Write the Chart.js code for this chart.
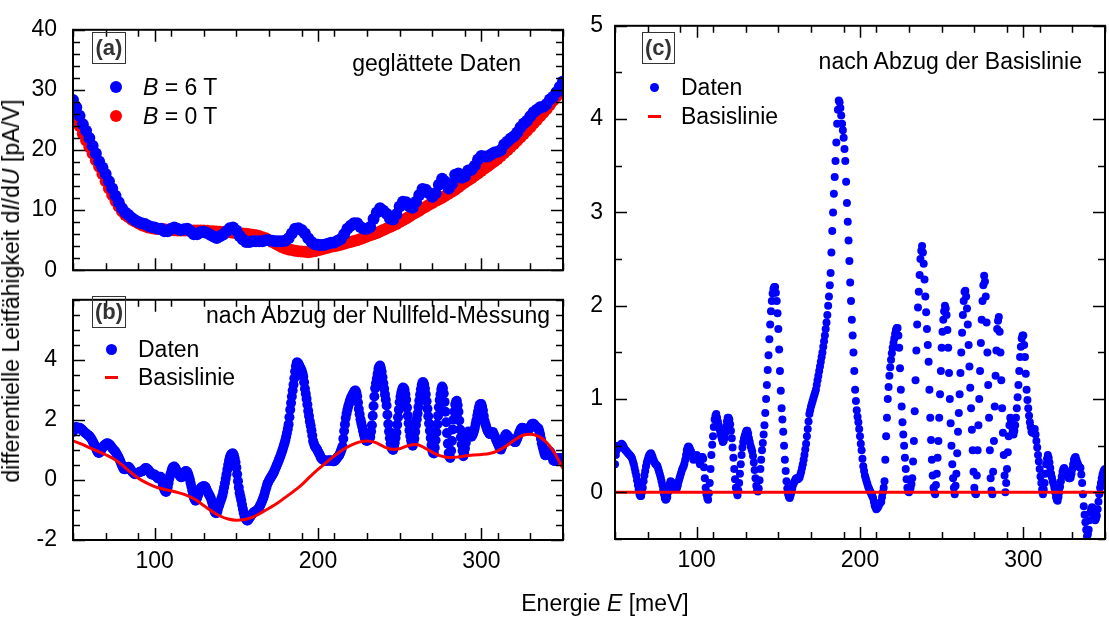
<!DOCTYPE html>
<html>
<head>
<meta charset="utf-8">
<script src="https://cdn.jsdelivr.net/npm/chart.js@4.4.0/dist/chart.umd.min.js"></script>
<style>
body { margin: 0; background: #fff; }
#fig { position: relative; width: 1109px; height: 619px; overflow: hidden;
       font-family: "Liberation Sans", Arial, sans-serif; color: #000; }
#fig canvas { position: absolute; }
.txt { position: absolute; font-size: 23px; line-height: 26px; white-space: nowrap; transform: translateY(-50%); }
.tag { position: absolute; box-sizing: border-box; border: 1.5px solid #333; color: #333;
       font-weight: bold; font-size: 22px; display: flex; align-items: center; justify-content: center; }
.dot { position: absolute; border-radius: 50%; }
.dash { position: absolute; height: 3px; }
</style>
</head>
<body>
<div id="fig">
  <canvas id="panelA" width="575" height="300" style="left:0;top:0"></canvas>
  <canvas id="panelB" width="575" height="340" style="left:0;top:270px"></canvas>
  <canvas id="panelC" width="534" height="610" style="left:575px;top:0"></canvas>

  <div class="txt" style="left:11px;top:291px;transform:translate(-50%,-50%) rotate(-90deg)">differentielle Leitfähigkeit d<i>I</i>/d<i>U</i> [pA/V]</div>
  <div class="txt" style="left:605px;top:603px;transform:translate(-50%,-50%)">Energie <i>E</i> [meV]</div>

  <!-- (a) -->
  <div class="tag" style="left:92px;top:32px;width:34px;height:32px">(a)</div>
  <div class="txt" style="right:588px;top:63px">geglättete Daten</div>
  <div class="dot" id="legA1" style="left:110px;top:81px;width:12px;height:12px"></div>
  <div class="txt" style="left:143px;top:87px"><i>B</i> = 6 T</div>
  <div class="dot" id="legA2" style="left:110px;top:110px;width:12px;height:12px"></div>
  <div class="txt" style="left:143px;top:116px"><i>B</i> = 0 T</div>

  <!-- (b) -->
  <div class="tag" style="left:92px;top:296px;width:34px;height:32px">(b)</div>
  <div class="txt" style="right:559px;top:315px">nach Abzug der Nullfeld-Messung</div>
  <div class="dot" id="legB1" style="left:106px;top:344px;width:11px;height:11px"></div>
  <div class="txt" style="left:138px;top:349px">Daten</div>
  <div class="dash" id="legB2" style="left:105px;top:376px;width:13px"></div>
  <div class="txt" style="left:138px;top:377px">Basislinie</div>

  <!-- (c) -->
  <div class="tag" style="left:642px;top:32px;width:33px;height:32px">(c)</div>
  <div class="txt" style="right:27px;top:61px">nach Abzug der Basislinie</div>
  <div class="dot" id="legC1" style="left:650px;top:83px;width:9px;height:9px"></div>
  <div class="txt" style="left:681px;top:87px">Daten</div>
  <div class="dash" id="legC2" style="left:648px;top:115px;width:13px"></div>
  <div class="txt" style="left:681px;top:116px">Basislinie</div>
</div>

<script>
const BLUE = "#0000ff";
const RED = "#ff0000";

// energy grids in meV
const energyHalf = Array.from({ length: 601 }, (_, i) => 50 + i / 2);
const energy2 = Array.from({ length: 151 }, (_, i) => 50 + 2 * i);
const energy5 = Array.from({ length: 61 }, (_, i) => 50 + 5 * i);

// (a) smoothed dI/dU in pA/V, every 2 meV
const dIdU6T = [
  28.3, 27.1, 25.7, 24.3, 23.2, 22.0, 20.7, 19.4, 18.1, 17.1,
  16.0, 14.8, 13.6, 12.4, 11.3, 10.3, 9.6, 9.2, 8.7, 8.3,
  8.0, 7.8, 7.7, 7.4, 7.2, 7.1, 6.9, 6.9, 6.5, 6.5,
  6.9, 7.1, 6.9, 6.7, 6.8, 6.9, 6.5, 6.0, 6.0, 6.3,
  6.4, 6.2, 5.9, 5.6, 5.35, 5.65, 5.95, 6.5, 7.0, 7.1,
  6.6, 5.7, 5.1, 4.7, 4.7, 4.8, 4.8, 4.8, 4.8, 5.0,
  5.0, 4.9, 4.8, 4.8, 4.8, 4.9, 5.3, 6.1, 6.9, 7.0,
  6.7, 6.1, 5.3, 4.7, 4.3, 4.25, 4.2, 4.25, 4.4, 4.55,
  4.6, 4.9, 5.2, 6.0, 6.9, 7.4, 7.8, 7.8, 7.2, 6.9,
  6.9, 7.2, 8.5, 9.6, 10.3, 9.9, 9.4, 8.6, 8.45, 9.3,
  10.6, 11.4, 11.3, 10.6, 10.4, 11.4, 12.5, 13.5, 13.4, 12.8,
  12.2, 12.8, 14.2, 15.2, 14.7, 13.6, 14.35, 15.9, 16.1, 15.4,
  15.65, 16.6, 16.7, 17.4, 18.4, 19.0, 18.9, 18.9, 19.25, 19.6,
  19.7, 20.0, 20.9, 21.4, 21.9, 22.3, 22.9, 23.8, 24.4, 24.85,
  25.6, 26.3, 26.7, 27.1, 27.2, 27.65, 28.4, 28.85, 29.6, 30.5,
  31.4
];
const dIdU0T = [
  26.7, 25.3, 24.0, 22.7, 21.6, 20.5, 19.4, 18.3, 17.2, 16.0,
  14.8, 13.6, 12.5, 11.5, 10.6, 9.8, 9.2, 8.8, 8.4, 8.1,
  7.8, 7.5, 7.3, 7.1, 7.0, 6.9, 6.85, 6.8, 6.8, 6.75,
  6.7, 6.65, 6.6, 6.6, 6.6, 6.6, 6.6, 6.6, 6.6, 6.6,
  6.6, 6.55, 6.5, 6.5, 6.45, 6.4, 6.35, 6.3, 6.3, 6.25,
  6.2, 6.15, 6.1, 6.05, 6.0, 5.9, 5.8, 5.7, 5.5, 5.3,
  5.0, 4.7, 4.4, 4.1, 3.8, 3.6, 3.45, 3.35, 3.25, 3.15,
  3.1, 3.05, 3.0, 3.05, 3.15, 3.3, 3.45, 3.6, 3.75, 3.9,
  4.0, 4.1, 4.25, 4.4, 4.55, 4.7, 4.85, 5.0, 5.2, 5.4,
  5.6, 5.8, 6.0, 6.2, 6.45, 6.7, 6.95, 7.2, 7.45, 7.7,
  8.0, 8.3, 8.6, 8.95, 9.3, 9.6, 9.9, 10.25, 10.55, 10.9,
  11.2, 11.5, 11.75, 12.05, 12.4, 12.7, 13.05, 13.4, 13.8, 14.2,
  14.6, 14.95, 15.3, 15.7, 16.1, 16.5, 16.9, 17.3, 17.7, 18.1,
  18.5, 19.0, 19.5, 19.95, 20.5, 21.0, 21.55, 22.1, 22.65, 23.2,
  23.8, 24.4, 25.0, 25.6, 26.2, 26.8, 27.5, 28.2, 28.9, 29.8,
  30.8
];

// (b) 6 T minus 0 T, every 0.5 meV
const diffData = [
  1.60, 1.69, 1.73, 1.75, 1.76, 1.74, 1.72, 1.73, 1.74, 1.72,
  1.70, 1.67, 1.64, 1.62, 1.59, 1.57, 1.55, 1.53, 1.50, 1.48,
  1.46, 1.43, 1.39, 1.35, 1.29, 1.24, 1.19, 1.13, 1.06, 1.00,
  0.94, 0.91, 0.90, 0.93, 0.96, 1.02, 1.07, 1.11, 1.14, 1.17,
  1.19, 1.21, 1.21, 1.21, 1.20, 1.17, 1.14, 1.10, 1.06, 1.03,
  1.00, 0.97, 0.94, 0.89, 0.84, 0.79, 0.74, 0.68, 0.62, 0.55,
  0.48, 0.42, 0.37, 0.36, 0.36, 0.39, 0.41, 0.43, 0.44, 0.41,
  0.37, 0.33, 0.29, 0.26, 0.23, 0.21, 0.19, 0.20, 0.22, 0.23,
  0.24, 0.26, 0.27, 0.28, 0.28, 0.29, 0.31, 0.35, 0.38, 0.40,
  0.39, 0.37, 0.34, 0.31, 0.27, 0.22, 0.18, 0.18, 0.18, 0.18,
  0.18, 0.15, 0.12, 0.09, 0.05, 0.08, 0.11, 0.11, 0.08, -0.02,
  -0.15, -0.26, -0.33, -0.38, -0.40, -0.34, -0.24, -0.10, 0.05, 0.16,
  0.24, 0.34, 0.41, 0.44, 0.45, 0.41, 0.36, 0.31, 0.26, 0.22,
  0.17, 0.13, 0.09, 0.09, 0.11, 0.17, 0.22, 0.27, 0.30, 0.29,
  0.26, 0.20, 0.11, 0.02, -0.10, -0.22, -0.35, -0.48, -0.58, -0.65,
  -0.69, -0.66, -0.60, -0.52, -0.44, -0.36, -0.29, -0.25, -0.23, -0.22,
  -0.21, -0.21, -0.23, -0.28, -0.35, -0.41, -0.46, -0.51, -0.56, -0.63,
  -0.72, -0.82, -0.92, -1.02, -1.08, -1.11, -1.10, -1.03, -0.92, -0.84,
  -0.75, -0.68, -0.60, -0.51, -0.39, -0.25, -0.11, 0.04, 0.19, 0.35,
  0.50, 0.64, 0.74, 0.82, 0.86, 0.88, 0.88, 0.82, 0.72, 0.59,
  0.41, 0.19, -0.04, -0.25, -0.43, -0.55, -0.68, -0.83, -0.97, -1.09,
  -1.20, -1.27, -1.32, -1.35, -1.35, -1.31, -1.27, -1.23, -1.18, -1.15,
  -1.12, -1.09, -1.06, -1.05, -1.04, -1.02, -1.00, -0.96, -0.91, -0.86,
  -0.80, -0.74, -0.67, -0.60, -0.52, -0.42, -0.32, -0.23, -0.13, -0.08,
  -0.02, 0.03, 0.07, 0.12, 0.16, 0.21, 0.26, 0.33, 0.39, 0.46,
  0.52, 0.59, 0.66, 0.73, 0.80, 0.88, 0.96, 1.04, 1.13, 1.22,
  1.32, 1.44, 1.56, 1.70, 1.85, 2.09, 2.34, 2.56, 2.78, 2.98,
  3.17, 3.39, 3.61, 3.79, 3.91, 3.91, 3.87, 3.82, 3.75, 3.70,
  3.64, 3.55, 3.44, 3.25, 3.04, 2.87, 2.70, 2.51, 2.30, 2.13,
  1.95, 1.81, 1.65, 1.48, 1.30, 1.21, 1.13, 1.09, 1.05, 1.01,
  0.95, 0.90, 0.85, 0.78, 0.72, 0.70, 0.67, 0.66, 0.65, 0.65,
  0.64, 0.64, 0.64, 0.65, 0.65, 0.65, 0.65, 0.64, 0.62, 0.62,
  0.62, 0.65, 0.68, 0.72, 0.76, 0.79, 0.82, 0.89, 0.96, 1.03,
  1.12, 1.37, 1.63, 1.85, 2.06, 2.21, 2.34, 2.45, 2.54, 2.63,
  2.70, 2.76, 2.82, 2.88, 2.93, 2.97, 2.98, 2.91, 2.79, 2.58,
  2.36, 2.19, 2.02, 1.90, 1.78, 1.65, 1.53, 1.43, 1.34, 1.31,
  1.30, 1.32, 1.34, 1.38, 1.43, 1.61, 1.82, 2.14, 2.46, 2.78,
  3.05, 3.22, 3.37, 3.54, 3.70, 3.78, 3.81, 3.73, 3.60, 3.42,
  3.22, 3.04, 2.85, 2.67, 2.48, 2.17, 1.86, 1.61, 1.39, 1.21,
  1.07, 1.02, 1.00, 1.11, 1.23, 1.40, 1.58, 1.84, 2.09, 2.34,
  2.59, 2.77, 2.91, 3.01, 3.08, 3.06, 3.00, 2.85, 2.67, 2.41,
  2.14, 1.89, 1.65, 1.46, 1.31, 1.21, 1.14, 1.24, 1.37, 1.60,
  1.83, 2.02, 2.21, 2.43, 2.64, 2.84, 3.02, 3.16, 3.25, 3.25,
  3.18, 3.04, 2.85, 2.62, 2.37, 2.12, 1.88, 1.64, 1.40, 1.16,
  0.97, 0.90, 0.88, 1.07, 1.32, 1.58, 1.85, 2.14, 2.42, 2.66,
  2.85, 3.02, 3.11, 3.05, 2.88, 2.60, 2.27, 1.92, 1.56, 1.21,
  0.90, 0.77, 0.73, 0.97, 1.30, 1.68, 2.01, 2.28, 2.51, 2.60,
  2.64, 2.49, 2.27, 1.98, 1.68, 1.42, 1.18, 0.97, 0.79, 0.90,
  1.05, 1.24, 1.41, 1.53, 1.61, 1.58, 1.52, 1.47, 1.44, 1.49,
  1.55, 1.63, 1.73, 1.86, 1.99, 2.14, 2.29, 2.41, 2.50, 2.53,
  2.53, 2.44, 2.31, 2.13, 1.96, 1.86, 1.77, 1.69, 1.62, 1.58,
  1.53, 1.53, 1.55, 1.58, 1.60, 1.55, 1.48, 1.42, 1.35, 1.29,
  1.22, 1.16, 1.10, 1.05, 1.01, 1.08, 1.16, 1.28, 1.39, 1.47,
  1.52, 1.51, 1.48, 1.44, 1.40, 1.38, 1.36, 1.35, 1.33, 1.30,
  1.27, 1.26, 1.26, 1.32, 1.38, 1.46, 1.54, 1.61, 1.67, 1.72,
  1.74, 1.73, 1.71, 1.70, 1.68, 1.66, 1.65, 1.66, 1.67, 1.72,
  1.77, 1.82, 1.86, 1.87, 1.87, 1.84, 1.80, 1.77, 1.74, 1.73,
  1.71, 1.62, 1.51, 1.37, 1.22, 1.11, 1.01, 0.91, 0.82, 0.82,
  0.85, 0.92, 0.96, 0.96, 0.94, 0.90, 0.83, 0.74, 0.65, 0.64,
  0.63, 0.65, 0.68, 0.71, 0.73, 0.73, 0.73, 0.72, 0.70, 0.67,
  0.63
];
// (b) baseline, every 5 meV
const diffBase = [
  1.30, 1.20, 1.08, 0.96, 0.84, 0.70, 0.50, 0.27, 0.06, -0.10,
  -0.22, -0.30, -0.36, -0.43, -0.52, -0.66, -0.85, -1.04, -1.20, -1.30,
  -1.34, -1.32, -1.24, -1.10, -0.94, -0.78, -0.58, -0.38, -0.16, 0.10,
  0.35, 0.58, 0.80, 1.00, 1.15, 1.26, 1.30, 1.25, 1.12, 1.02,
  1.04, 1.14, 1.18, 1.08, 0.92, 0.80, 0.75, 0.76, 0.80, 0.83,
  0.85, 0.88, 0.97, 1.12, 1.32, 1.48, 1.52, 1.45, 1.25, 0.88,
  0.38
];

// (c) after baseline subtraction, every 0.5 meV
const peakData = [
  0.30, 0.40, 0.45, 0.48, 0.50, 0.49, 0.48, 0.50, 0.52, 0.51,
  0.50, 0.48, 0.46, 0.45, 0.44, 0.43, 0.42, 0.41, 0.40, 0.39,
  0.38, 0.36, 0.33, 0.30, 0.26, 0.22, 0.18, 0.13, 0.08, 0.03,
  -0.02, -0.04, -0.04, 0.00, 0.05, 0.12, 0.18, 0.23, 0.28, 0.32,
  0.35, 0.38, 0.40, 0.41, 0.42, 0.40, 0.38, 0.35, 0.33, 0.31,
  0.30, 0.29, 0.28, 0.25, 0.22, 0.19, 0.16, 0.12, 0.08, 0.03,
  -0.02, -0.06, -0.08, -0.07, -0.05, 0.00, 0.05, 0.09, 0.12, 0.11,
  0.10, 0.08, 0.06, 0.05, 0.04, 0.04, 0.05, 0.08, 0.12, 0.15,
  0.18, 0.21, 0.24, 0.26, 0.28, 0.31, 0.35, 0.40, 0.45, 0.48,
  0.49, 0.48, 0.46, 0.44, 0.42, 0.38, 0.35, 0.36, 0.38, 0.39,
  0.40, 0.38, 0.36, 0.33, 0.30, 0.34, 0.38, 0.38, 0.36, 0.27,
  0.15, 0.05, -0.02, -0.06, -0.08, -0.01, 0.10, 0.25, 0.40, 0.51,
  0.60, 0.70, 0.78, 0.82, 0.84, 0.80, 0.76, 0.72, 0.68, 0.64,
  0.60, 0.57, 0.54, 0.55, 0.58, 0.64, 0.70, 0.76, 0.80, 0.80,
  0.78, 0.73, 0.66, 0.58, 0.48, 0.37, 0.25, 0.14, 0.05, 0.00,
  -0.03, 0.02, 0.10, 0.20, 0.30, 0.40, 0.48, 0.54, 0.58, 0.61,
  0.64, 0.66, 0.66, 0.63, 0.58, 0.54, 0.50, 0.47, 0.44, 0.39,
  0.32, 0.24, 0.15, 0.07, 0.02, 0.01, 0.04, 0.13, 0.25, 0.35,
  0.45, 0.53, 0.62, 0.72, 0.85, 1.00, 1.15, 1.31, 1.47, 1.64,
  1.80, 1.94, 2.05, 2.13, 2.18, 2.20, 2.20, 2.14, 2.05, 1.92,
  1.75, 1.53, 1.30, 1.09, 0.90, 0.78, 0.65, 0.50, 0.35, 0.23,
  0.12, 0.04, -0.02, -0.05, -0.06, -0.03, 0.00, 0.04, 0.08, 0.10,
  0.12, 0.14, 0.15, 0.15, 0.14, 0.15, 0.16, 0.19, 0.22, 0.26,
  0.30, 0.35, 0.40, 0.46, 0.52, 0.60, 0.68, 0.76, 0.84, 0.88,
  0.92, 0.95, 0.98, 1.01, 1.04, 1.07, 1.10, 1.15, 1.20, 1.25,
  1.30, 1.35, 1.40, 1.45, 1.50, 1.56, 1.62, 1.68, 1.75, 1.82,
  1.90, 2.00, 2.10, 2.22, 2.35, 2.57, 2.80, 3.00, 3.20, 3.38,
  3.55, 3.75, 3.95, 4.10, 4.20, 4.18, 4.12, 4.04, 3.95, 3.88,
  3.80, 3.68, 3.55, 3.33, 3.10, 2.90, 2.70, 2.48, 2.25, 2.05,
  1.85, 1.68, 1.50, 1.30, 1.10, 0.98, 0.88, 0.81, 0.75, 0.68,
  0.60, 0.52, 0.45, 0.36, 0.28, 0.23, 0.18, 0.15, 0.12, 0.09,
  0.06, 0.04, 0.02, 0.00, -0.02, -0.04, -0.06, -0.10, -0.14, -0.16,
  -0.18, -0.17, -0.16, -0.14, -0.12, -0.11, -0.10, -0.05, 0.00, 0.05,
  0.12, 0.35, 0.60, 0.80, 1.00, 1.13, 1.25, 1.34, 1.42, 1.49,
  1.55, 1.60, 1.65, 1.70, 1.74, 1.76, 1.76, 1.68, 1.55, 1.33,
  1.10, 0.92, 0.75, 0.62, 0.50, 0.37, 0.25, 0.14, 0.05, 0.01,
  0.00, 0.02, 0.05, 0.09, 0.15, 0.33, 0.55, 0.87, 1.20, 1.52,
  1.80, 1.98, 2.15, 2.33, 2.50, 2.59, 2.64, 2.57, 2.45, 2.28,
  2.10, 1.93, 1.75, 1.58, 1.40, 1.10, 0.80, 0.56, 0.35, 0.18,
  0.05, 0.00, -0.02, 0.08, 0.20, 0.37, 0.55, 0.80, 1.05, 1.30,
  1.55, 1.72, 1.85, 1.94, 2.00, 1.97, 1.90, 1.74, 1.55, 1.28,
  1.00, 0.74, 0.50, 0.30, 0.15, 0.05, -0.02, 0.07, 0.20, 0.42,
  0.65, 0.85, 1.05, 1.28, 1.50, 1.71, 1.90, 2.05, 2.15, 2.16,
  2.10, 1.97, 1.80, 1.58, 1.35, 1.12, 0.90, 0.67, 0.45, 0.22,
  0.05, -0.01, -0.02, 0.18, 0.45, 0.72, 1.00, 1.30, 1.60, 1.85,
  2.05, 2.22, 2.32, 2.26, 2.10, 1.82, 1.50, 1.15, 0.80, 0.45,
  0.15, 0.02, -0.02, 0.22, 0.55, 0.92, 1.25, 1.52, 1.75, 1.84,
  1.88, 1.72, 1.50, 1.20, 0.90, 0.64, 0.40, 0.18, 0.00, 0.10,
  0.25, 0.43, 0.60, 0.72, 0.80, 0.76, 0.70, 0.65, 0.62, 0.66,
  0.72, 0.80, 0.90, 1.02, 1.15, 1.30, 1.45, 1.56, 1.65, 1.68,
  1.68, 1.58, 1.45, 1.27, 1.10, 0.99, 0.90, 0.82, 0.75, 0.70,
  0.65, 0.64, 0.65, 0.67, 0.68, 0.62, 0.55, 0.48, 0.40, 0.33,
  0.25, 0.17, 0.10, 0.03, -0.02, 0.03, 0.10, 0.20, 0.30, 0.36,
  0.40, 0.37, 0.32, 0.26, 0.20, 0.16, 0.12, 0.09, 0.05, 0.00,
  -0.05, -0.08, -0.09, -0.05, 0.00, 0.06, 0.12, 0.17, 0.22, 0.25,
  0.26, 0.24, 0.22, 0.20, 0.18, 0.16, 0.15, 0.15, 0.16, 0.20,
  0.25, 0.30, 0.35, 0.37, 0.38, 0.35, 0.32, 0.30, 0.28, 0.27,
  0.26, 0.19, 0.10, -0.02, -0.15, -0.24, -0.32, -0.40, -0.47, -0.45,
  -0.40, -0.30, -0.22, -0.18, -0.16, -0.17, -0.20, -0.25, -0.30, -0.28,
  -0.25, -0.18, -0.10, -0.02, 0.05, 0.10, 0.15, 0.19, 0.22, 0.24,
  0.25
];
const zeroLineE = [50, 350];
const zeroLine = [0, 0];

// tick labels
const xTicks = [100, 200, 300];
const yTicksA = [0, 10, 20, 30, 40];
const yTicksB = [-2, 0, 2, 4];
const yTicksC = [0, 1, 2, 3, 4, 5];

const pts = (xs, ys) => xs.map((x, i) => ({ x: x, y: ys[i] }));
const tickFont = { family: "Liberation Sans", size: 23 };

// inward major/minor ticks on all four sides plus the frame
const frameTicks = {
  id: "frameTicks",
  afterDraw(chart, args, o) {
    const { ctx, chartArea: a, scales: { x, y } } = chart;
    ctx.save();
    ctx.strokeStyle = "#000";
    ctx.lineWidth = 1.5;
    ctx.beginPath();
    const vTick = (v, len) => {
      const px = Math.round(x.getPixelForValue(v)) + 0.5;
      ctx.moveTo(px, a.top); ctx.lineTo(px, a.top + len);
      ctx.moveTo(px, a.bottom); ctx.lineTo(px, a.bottom - len);
    };
    const hTick = (v, len) => {
      const py = Math.round(y.getPixelForValue(v)) + 0.5;
      ctx.moveTo(a.left, py); ctx.lineTo(a.left + len, py);
      ctx.moveTo(a.right, py); ctx.lineTo(a.right - len, py);
    };
    for (let v = x.min; v <= x.max + 1e-9; v += o.xMinor) {
      if (!o.xMajor.includes(Math.round(v * 1000) / 1000)) vTick(v, 7);
    }
    o.xMajor.forEach(v => vTick(v, 12));
    for (let v = y.min; v <= y.max + 1e-9; v += o.yMinor) {
      const r = Math.round(v * 1000) / 1000;
      if (!o.yMajor.includes(r)) hTick(r, 7);
    }
    o.yMajor.forEach(v => hTick(v, 12));
    ctx.stroke();
    ctx.lineWidth = 2;
    ctx.strokeRect(a.left, a.top, a.right - a.left, a.bottom - a.top);
    ctx.restore();
  }
};

function panel(id, p) {
  return new Chart(document.getElementById(id), {
    type: "scatter",
    data: { datasets: p.datasets },
    options: {
      responsive: false,
      animation: false,
      devicePixelRatio: 1,
      layout: { padding: p.pad },
      events: [],
      plugins: {
        legend: { display: false },
        tooltip: { enabled: false },
        frameTicks: { xMajor: xTicks, xMinor: 20, yMajor: p.yTicks, yMinor: p.yMinor }
      },
      scales: {
        x: {
          type: "linear", min: 50, max: 350,
          grid: { display: false, drawTicks: false, tickLength: 0 },
          border: { display: false },
          afterBuildTicks: s => { s.ticks = xTicks.map(v => ({ value: v })); },
          afterFit: s => { s.height = p.xh; },
          ticks: { display: p.xLabels, font: tickFont, color: "#000", padding: 8, maxRotation: 0 }
        },
        y: {
          type: "linear", min: p.yMin, max: p.yMax,
          grid: { display: false, drawTicks: false, tickLength: 0 },
          border: { display: false },
          afterBuildTicks: s => { s.ticks = p.yTicks.map(v => ({ value: v })); },
          afterFit: s => { s.width = p.yw; },
          ticks: { font: tickFont, color: "#000", padding: p.ypad }
        }
      }
    },
    plugins: [frameTicks]
  });
}

const dots = (label, xs, ys, color, r) => ({
  label: label, data: pts(xs, ys), showLine: false,
  pointRadius: r, pointBorderWidth: 0, pointBackgroundColor: color, backgroundColor: color
});
const curve = (label, xs, ys, color) => ({
  type: "line", label: label, data: pts(xs, ys), showLine: true, fill: false,
  borderColor: color, borderWidth: 3, pointRadius: 0, cubicInterpolationMode: "monotone"
});

panel("panelA", {
  pad: { top: 16, right: 12, left: 0, bottom: 0 }, xh: 22, yw: 73, ypad: 16, xLabels: false,
  yMin: 0, yMax: 40, yTicks: yTicksA, yMinor: 2,
  datasets: [
    dots("B = 6 T", energy2, dIdU6T, BLUE, 6),
    dots("B = 0 T", energy2, dIdU0T, RED, 6)
  ]
});

panel("panelB", {
  pad: { top: 8, right: 12, left: 0, bottom: 0 }, xh: 70, yw: 73, ypad: 16, xLabels: true,
  yMin: -2, yMax: 6, yTicks: yTicksB, yMinor: 0.5,
  datasets: [
    curve("Basislinie", energy5, diffBase, RED),
    dots("Daten", energyHalf, diffData, BLUE, 5)
  ]
});

panel("panelC", {
  pad: { top: 16, right: 3, left: 0, bottom: 0 }, xh: 71, yw: 40, ypad: 12, xLabels: true,
  yMin: -0.5, yMax: 5, yTicks: yTicksC, yMinor: 0.5,
  datasets: [
    curve("Basislinie", zeroLineE, zeroLine, RED),
    dots("Daten", energyHalf, peakData, BLUE, 4)
  ]
});

// legend swatches take the series colours
["legA1", "legB1", "legC1"].forEach(id => { document.getElementById(id).style.background = BLUE; });
["legA2", "legB2", "legC2"].forEach(id => { document.getElementById(id).style.background = RED; });
</script>
</body>
</html>
